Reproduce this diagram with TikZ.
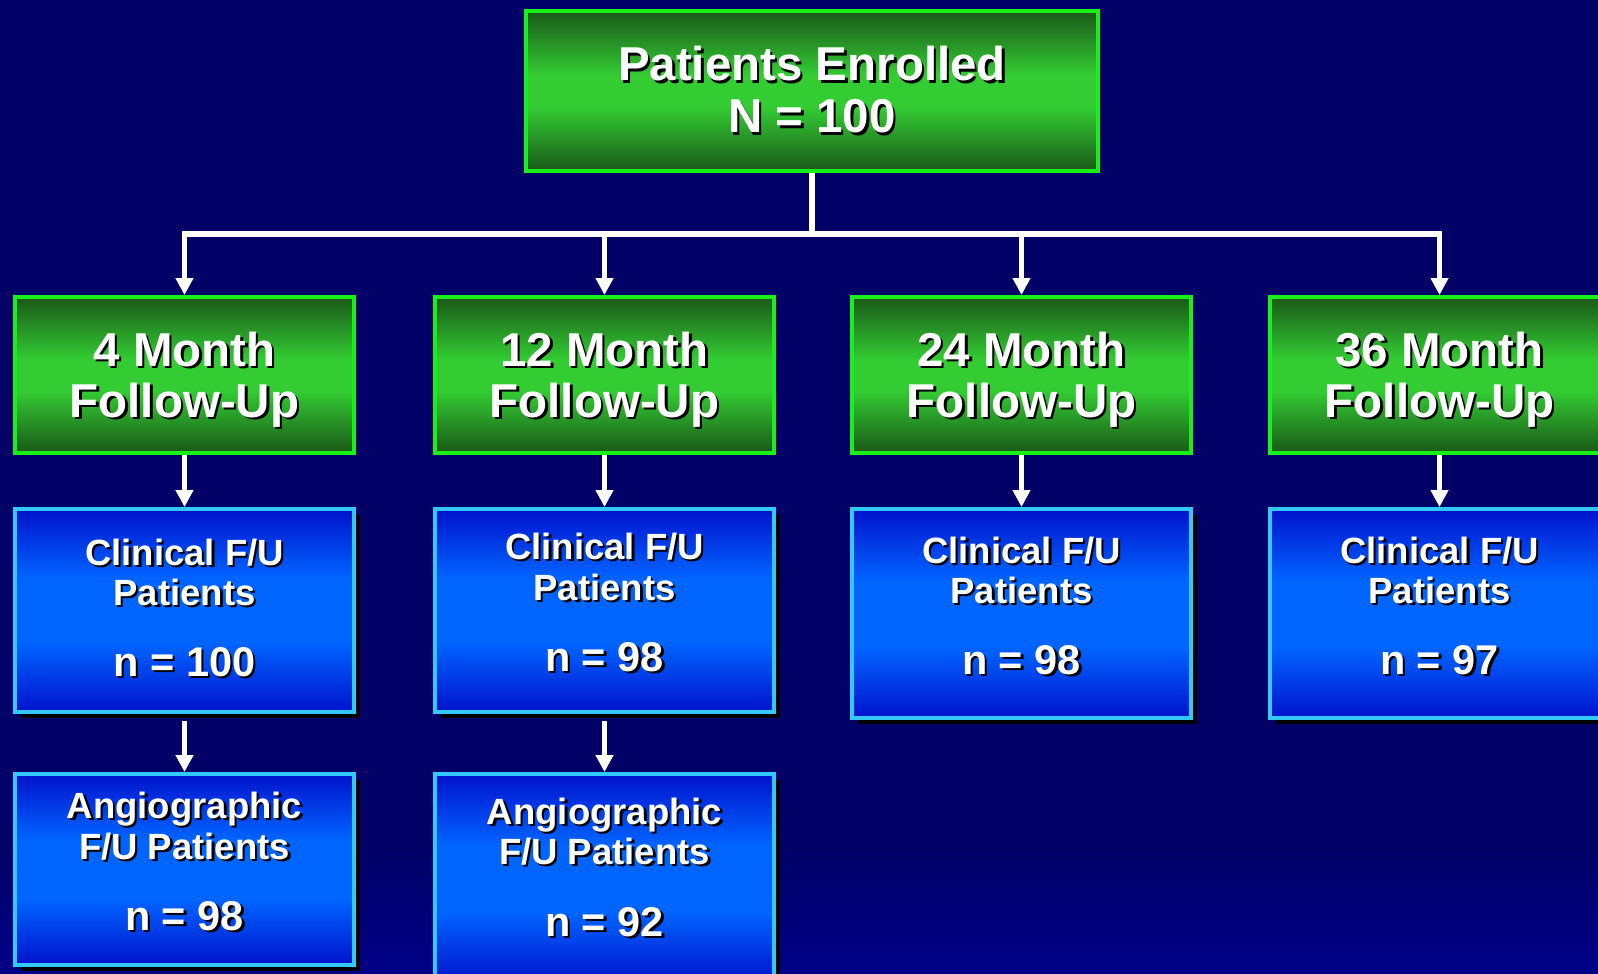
\documentclass[tikz,border=0pt]{standalone}
\usepackage{fontspec}
\setmainfont{Liberation Sans}
\usetikzlibrary{arrows.meta,shadows}
\definecolor{bgc}{RGB}{0,0,102}
\definecolor{bgc2}{RGB}{0,0,135}
\definecolor{gborder}{RGB}{25,240,25}
\definecolor{gdark}{RGB}{26,88,24}
\definecolor{gbright}{RGB}{51,204,51}
\definecolor{bborder}{RGB}{51,200,250}
\definecolor{bdark}{RGB}{0,18,205}
\definecolor{bbright}{RGB}{0,100,255}
\pgfdeclareverticalshading{greensh}{100bp}{color(0bp)=(gdark); color(25bp)=(gdark); color(45bp)=(gbright); color(55bp)=(gbright); color(75bp)=(gdark); color(100bp)=(gdark)}
\pgfdeclareverticalshading{bluesh}{100bp}{color(0bp)=(bdark); color(25bp)=(bdark); color(42bp)=(bbright); color(58bp)=(bbright); color(75bp)=(bdark); color(100bp)=(bdark)}
\newcommand\shd[1]{\makebox[0pt][l]{\hspace{1.2pt}\raisebox{-1.2pt}{\color{black}#1}}#1}
\newcommand\fbig{\fontsize{23.75pt}{26pt}\selectfont\bfseries}
\newcommand\fmid{\fontsize{18.25pt}{20pt}\selectfont\bfseries}
\newcommand\fnum{\fontsize{20.75pt}{22pt}\selectfont\bfseries}
\tikzset{
  gbox/.style={draw=gborder, line width=2pt, shading=greensh, minimum width=169.5pt, minimum height=78pt, inner sep=0pt, outer sep=auto},
  bbox/.style={draw=bborder, line width=2pt, shading=bluesh, minimum width=169.5pt, inner sep=0pt, outer sep=auto,
     drop shadow={shadow xshift=3pt, shadow yshift=-3pt, fill=black, opacity=1}},
  conn/.style={draw=white, line width=2.75pt, -{Triangle[width=8.5pt,length=8.5pt]}},
  lbl/.style={text=white, anchor=base, inner sep=0pt}
}
\begin{document}
\begin{tikzpicture}[x=0.5pt, y=-0.5pt]
\useasboundingbox (0,0) rectangle (1598,973);
\clip (0,0) rectangle (1598,973);
\fill[bgc] (0,0) rectangle (1598,973);
\shade[top color=bgc, bottom color=bgc2] (0,845) rectangle (1598,974);

% top box
\node[gbox, minimum width=286pt, minimum height=80pt] (top) at (812,91) {};
\node[lbl, font=\fbig] (top1) at (812,81) {\shd{Patients Enrolled}};
\node[lbl, font=\fbig] (top2) at (812,133) {\shd{N = 100}};

% green follow-up boxes
\node[gbox] (g1) at (184.5,375) {};
\node[gbox] (g2) at (604.5,375) {};
\node[gbox] (g3) at (1021.5,375) {};
\node[gbox] (g4) at (1439.5,375) {};
\node[lbl, font=\fbig] (g1a) at (184.5,366) {\shd{4 Month}};
\node[lbl, font=\fbig] (g1b) at (184.5,417) {\shd{Follow-Up}};
\node[lbl, font=\fbig] (g2a) at (604.5,366) {\shd{12 Month}};
\node[lbl, font=\fbig] (g2b) at (604.5,417) {\shd{Follow-Up}};
\node[lbl, font=\fbig] (g3a) at (1021.5,366) {\shd{24 Month}};
\node[lbl, font=\fbig] (g3b) at (1021.5,417) {\shd{Follow-Up}};
\node[lbl, font=\fbig] (g4a) at (1439.5,366) {\shd{36 Month}};
\node[lbl, font=\fbig] (g4b) at (1439.5,417) {\shd{Follow-Up}};

% clinical boxes
\node[bbox, minimum height=101.5pt] (b1) at (184.5,610.5) {};
\node[bbox, minimum height=101.5pt] (b2) at (604.5,610.5) {};
\node[bbox, minimum height=104.5pt] (b3) at (1021.5,613.5) {};
\node[bbox, minimum height=104.5pt] (b4) at (1439.5,613.5) {};
\node[lbl, font=\fmid] (b1a) at (184.5,565) {\shd{Clinical F/U}};
\node[lbl, font=\fmid] (b1b) at (184.5,605) {\shd{Patients}};
\node[lbl, font=\fnum] (b1c) at (184.5,676) {\shd{n = 100}};
\node[lbl, font=\fmid] (b2a) at (604.5,559) {\shd{Clinical F/U}};
\node[lbl, font=\fmid] (b2b) at (604.5,600) {\shd{Patients}};
\node[lbl, font=\fnum] (b2c) at (604.5,671) {\shd{n = 98}};
\node[lbl, font=\fmid] (b3a) at (1021.5,563) {\shd{Clinical F/U}};
\node[lbl, font=\fmid] (b3b) at (1021.5,603) {\shd{Patients}};
\node[lbl, font=\fnum] (b3c) at (1021.5,674) {\shd{n = 98}};
\node[lbl, font=\fmid] (b4a) at (1439.5,563) {\shd{Clinical F/U}};
\node[lbl, font=\fmid] (b4b) at (1439.5,603) {\shd{Patients}};
\node[lbl, font=\fnum] (b4c) at (1439.5,674) {\shd{n = 97}};

% angiographic boxes
\node[bbox, minimum height=95.5pt] (a1) at (184.5,869.5) {};
\node[bbox, minimum height=104.5pt] (a2) at (604.5,878.5) {};
\node[lbl, font=\fmid] (a1a) at (184.5,818) {\shd{Angiographic}};
\node[lbl, font=\fmid] (a1b) at (184.5,859) {\shd{F/U Patients}};
\node[lbl, font=\fnum] (a1c) at (184.5,930) {\shd{n = 98}};
\node[lbl, font=\fmid] (a2a) at (604.5,824) {\shd{Angiographic}};
\node[lbl, font=\fmid] (a2b) at (604.5,864) {\shd{F/U Patients}};
\node[lbl, font=\fnum] (a2c) at (604.5,936) {\shd{n = 92}};

% connectors
\coordinate (bus) at (812,234);
\draw[conn] (top.south) -- (bus) -| (g1.north);
\draw[conn] (top.south) -- (bus) -| (g2.north);
\draw[conn] (top.south) -- (bus) -| (g3.north);
\draw[conn] (top.south) -- (bus) -| (g4.north);
\draw[conn] (g1.south) -- (b1.north);
\draw[conn] (g2.south) -- (b2.north);
\draw[conn] (g3.south) -- (b3.north);
\draw[conn] (g4.south) -- (b4.north);
\draw[conn, shorten <=3.5pt] (b1.south) -- (a1.north);
\draw[conn, shorten <=3.5pt] (b2.south) -- (a2.north);
\end{tikzpicture}
\end{document}
